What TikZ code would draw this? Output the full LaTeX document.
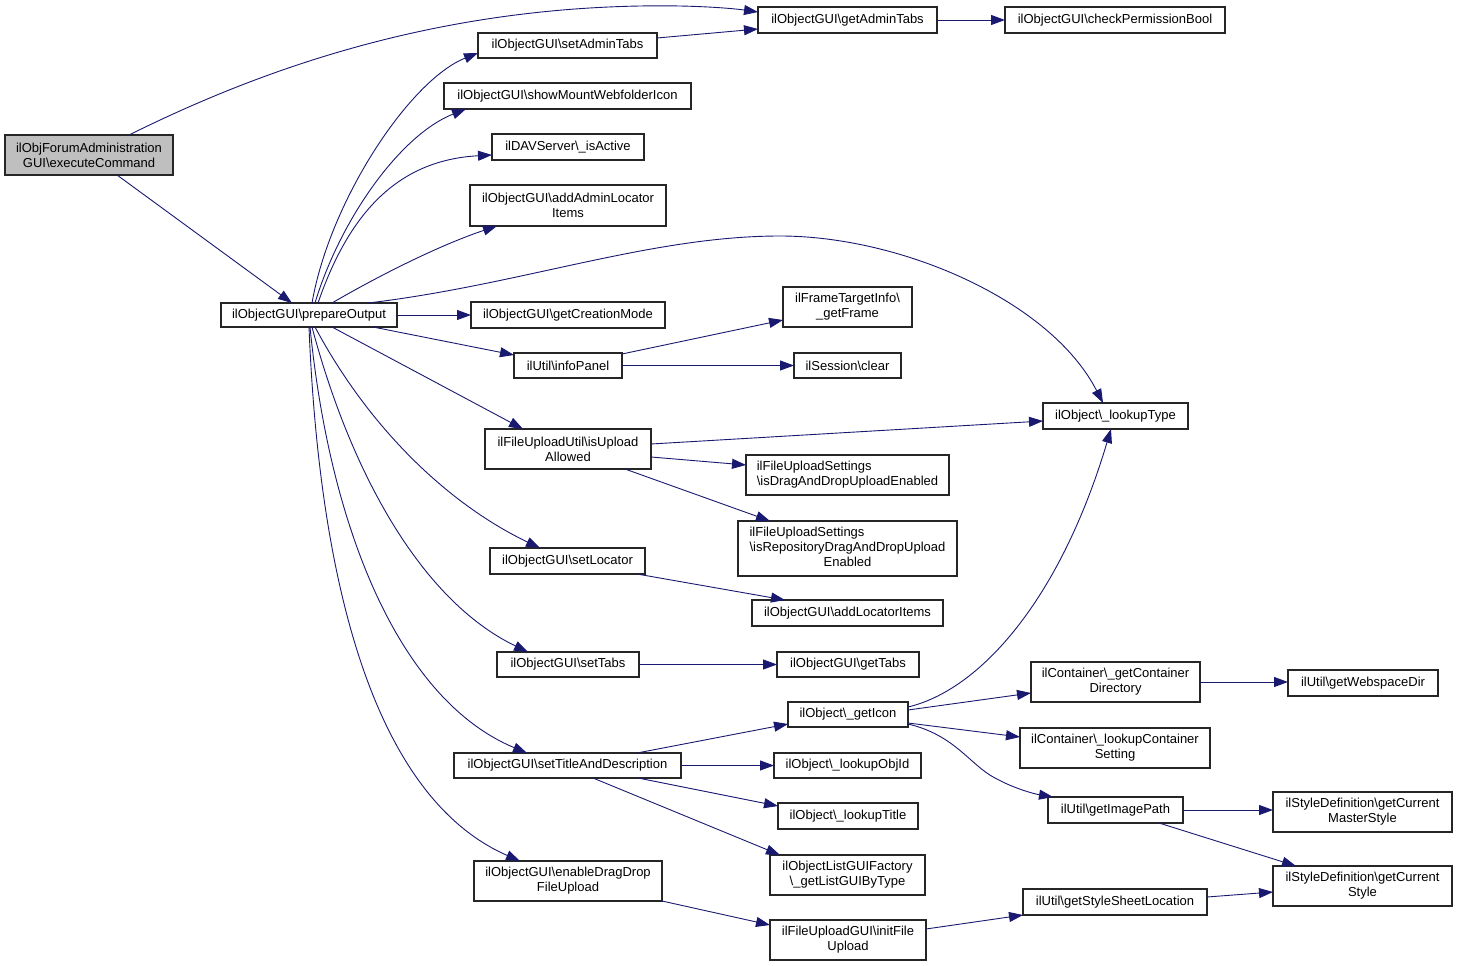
\documentclass[tikz,border=0pt]{standalone}
\usepackage{fontspec}
\setmainfont{Liberation Sans}
\usetikzlibrary{arrows.meta,calc}
\definecolor{edgeblue}{HTML}{191970}
\definecolor{rootgray}{HTML}{BFBFBF}
\newcommand{\mybs}{\textbackslash}
\newcommand{\bx}[6]{\node[box,minimum width={(#4)-(#2)},minimum height={(#5)-(#3)}] (#1) at ({((#2)+(#4))/2},{((#3)+(#5))/2}) {#6};}
\begin{document}
\begin{tikzpicture}[x=1pt,y=-1pt,
  box/.style={draw=black!85,line width=1.1pt,fill=white,inner sep=0pt,outer sep=0pt,align=center,font=\fontsize{13}{15}\selectfont},
  call/.style={draw=edgeblue,line width=0.9pt,-{Triangle[length=14pt,width=10pt]}}]
\useasboundingbox (0,0) rectangle (1457,966);
% nodes
\node[box,fill=rootgray,minimum width=168,minimum height=40] (exec) at (89,155) {ilObjForumAdministration\\GUI\mybs{}executeCommand};
\bx{prep}{221}{303}{397}{327}{ilObjectGUI\mybs{}prepareOutput}
\bx{getAdminTabs}{758}{7}{937}{33}{ilObjectGUI\mybs{}getAdminTabs}
\bx{checkPerm}{1005}{7}{1225}{33}{ilObjectGUI\mybs{}checkPermissionBool}
\bx{setAdminTabs}{478}{33}{657}{58}{ilObjectGUI\mybs{}setAdminTabs}
\bx{showMount}{444}{83}{691}{109}{ilObjectGUI\mybs{}showMountWebfolderIcon}
\bx{isActive}{492}{134}{644}{160}{ilDAVServer\mybs\_isActive}
\bx{addAdminLoc}{470}{185}{666}{226}{ilObjectGUI\mybs{}addAdminLocator\\Items}
\bx{getCreationMode}{471}{302}{665}{328}{ilObjectGUI\mybs{}getCreationMode}
\bx{getFrame}{783}{287}{912}{327}{ilFrameTargetInfo\mybs\\\_getFrame}
\bx{infoPanel}{514}{353}{622}{378}{ilUtil\mybs{}infoPanel}
\bx{clear}{794}{353}{901}{378}{ilSession\mybs{}clear}
\bx{isUpload}{485}{429}{651}{469}{ilFileUploadUtil\mybs{}isUpload\\Allowed}
\bx{lookupType}{1043}{403}{1188}{429}{ilObject\mybs\_lookupType}
\node[box,align=left,minimum width=203,minimum height=40] (isDragDrop) at (847.5,475) {ilFileUploadSettings\\\mybs{}isDragAndDropUploadEnabled};
\node[box,minimum width=219,minimum height=55] (isRepo) at (847.5,548.5) {\begin{tabular}{@{}l@{}}ilFileUploadSettings\\\mybs{}isRepositoryDragAndDropUpload\\\multicolumn{1}{@{}c@{}}{Enabled}\end{tabular}};
\bx{setLocator}{490}{548}{645}{574}{ilObjectGUI\mybs{}setLocator}
\bx{addLocatorItems}{752}{600}{943}{626}{ilObjectGUI\mybs{}addLocatorItems}
\bx{setTabs}{497}{652}{639}{677}{ilObjectGUI\mybs{}setTabs}
\bx{getTabs}{777}{652}{919}{677}{ilObjectGUI\mybs{}getTabs}
\bx{getIcon}{788}{702}{908}{727}{ilObject\mybs\_getIcon}
\bx{setTitle}{454}{753}{681}{778}{ilObjectGUI\mybs{}setTitleAndDescription}
\bx{lookupObjId}{774}{753}{921}{778}{ilObject\mybs\_lookupObjId}
\bx{lookupTitle}{778}{803}{918}{829}{ilObject\mybs\_lookupTitle}
\bx{getListGUI}{770}{855}{925}{895}{ilObjectListGUIFactory\\\mybs\_getListGUIByType}
\bx{enableDrag}{474}{861}{662}{901}{ilObjectGUI\mybs{}enableDragDrop\\FileUpload}
\bx{initFile}{770}{920}{926}{960}{ilFileUploadGUI\mybs{}initFile\\Upload}
\bx{getContainerDir}{1031}{662}{1200}{702}{ilContainer\mybs\_getContainer\\Directory}
\bx{getWebspaceDir}{1288}{670}{1438}{696}{ilUtil\mybs{}getWebspaceDir}
\bx{lookupContSetting}{1020}{728}{1210}{768}{ilContainer\mybs\_lookupContainer\\Setting}
\bx{getImagePath}{1048}{797}{1183}{823}{ilUtil\mybs{}getImagePath}
\bx{getCurrentMaster}{1273}{792}{1452}{832}{ilStyleDefinition\mybs{}getCurrent\\MasterStyle}
\bx{getCurrentStyle}{1273}{866}{1452}{906}{ilStyleDefinition\mybs{}getCurrent\\Style}
\bx{getStyleSheet}{1023}{889}{1207}{915}{ilUtil\mybs{}getStyleSheetLocation}
% edges
\draw[call] ($(exec.north west)+(124,0)$) .. controls (250,75) and (420,10) .. (640,6) .. controls (690,5) and (730,8) .. ($(getAdminTabs.north west)+(0,5)$);
\draw[call] ($(exec.north west)+(112,40)$) -- ($(prep.north west)+(71,0)$);
\draw[call] ($(prep.north west)+(91,0)$) .. controls (330,200) and (410,80) .. ($(setAdminTabs.north west)+(0,20)$);
\draw[call] ($(prep.north west)+(94,0)$) .. controls (340,220) and (400,135) .. ($(showMount.north west)+(22,26)$);
\draw[call] ($(prep.north west)+(97,0)$) .. controls (350,210) and (400,160) .. ($(isActive.north west)+(0,21)$);
\draw[call] ($(prep.north west)+(111,0)$) .. controls (380,275) and (440,245) .. ($(addAdminLoc.north west)+(27,41)$);
\draw[call] ($(prep.north west)+(147,0)$) .. controls (520,285) and (650,236) .. (780,236) .. controls (900,236) and (1050,300) .. ($(lookupType.north west)+(60,0)$);
\draw[call] (prep.east) -- (getCreationMode.west);
\draw[call] ($(prep.north west)+(152,24)$) -- ($(infoPanel.north west)+(0,2)$);
\draw[call] ($(prep.north west)+(111,24)$) -- ($(isUpload.north west)+(38,0)$);
\draw[call] ($(prep.north west)+(94,24)$) .. controls (370,430) and (450,505) .. ($(setLocator.north west)+(50,0)$);
\draw[call] ($(prep.north west)+(91,24)$) .. controls (350,470) and (420,600) .. ($(setTabs.north west)+(31,0)$);
\draw[call] ($(prep.north west)+(89,24)$) .. controls (330,530) and (400,700) .. ($(setTitle.north west)+(73,0)$);
\draw[call] ($(prep.north west)+(88,24)$) .. controls (320,600) and (380,800) .. ($(enableDrag.north west)+(46,0)$);
\draw[call] ($(setAdminTabs.north west)+(179,5)$) -- ($(getAdminTabs.north west)+(0,22)$);
\draw[call] (getAdminTabs.east) -- (checkPerm.west);
\draw[call] ($(infoPanel.north west)+(108,1)$) -- ($(getFrame.north west)+(0,33)$);
\draw[call] (infoPanel.east) -- (clear.west);
\draw[call] ($(isUpload.north west)+(166,15)$) -- ($(lookupType.north west)+(0,18)$);
\draw[call] ($(isUpload.north west)+(166,28)$) -- ($(isDragDrop.north west)+(0,10)$);
\draw[call] ($(isUpload.north west)+(140,40)$) -- ($(isRepo.north west)+(32,0)$);
\draw[call] ($(setLocator.north west)+(147,26)$) -- ($(addLocatorItems.north west)+(33,0)$);
\draw[call] (setTabs.east) -- (getTabs.west);
\draw[call] ($(getIcon.north west)+(120,5)$) .. controls (980,690) and (1060,600) .. ($(lookupType.north west)+(68,26)$);
\draw[call] ($(getIcon.north west)+(120,8)$) -- ($(getContainerDir.north west)+(0,31)$);
\draw[call] ($(getIcon.north west)+(120,21)$) -- ($(lookupContSetting.north west)+(0,9)$);
\draw[call] ($(getIcon.north west)+(120,22)$) .. controls (955,735) and (970,765) .. (995,778) .. controls (1015,789) and (1035,794) .. ($(getImagePath.north west)+(5,0)$);
\draw[call] (getContainerDir.east) -- (getContainerDir.east -| getWebspaceDir.west);
\draw[call] (getImagePath.east) -- (getImagePath.east -| getCurrentMaster.west);
\draw[call] ($(getImagePath.north west)+(111,26)$) -- ($(getCurrentStyle.north west)+(23,0)$);
\draw[call] ($(getStyleSheet.north west)+(184,8)$) -- ($(getCurrentStyle.north west)+(0,26)$);
\draw[call] ($(setTitle.north west)+(183,0)$) -- ($(getIcon.north west)+(0,22)$);
\draw[call] (setTitle.east) -- (lookupObjId.west);
\draw[call] ($(setTitle.north west)+(184,25)$) -- ($(lookupTitle.north west)+(0,3)$);
\draw[call] ($(setTitle.north west)+(139,25)$) -- ($(getListGUI.north west)+(10,0)$);
\draw[call] ($(enableDrag.north west)+(188,40)$) -- ($(initFile.north west)+(0,5)$);
\draw[call] ($(initFile.north west)+(156,9)$) -- ($(getStyleSheet.north west)+(0,26)$);
\end{tikzpicture}
\end{document}
